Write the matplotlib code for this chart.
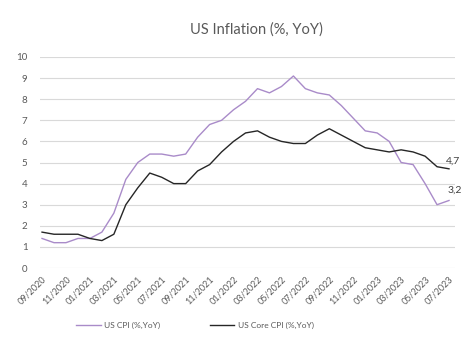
import numpy as np
import matplotlib
matplotlib.use("Agg")
import matplotlib.pyplot as plt
from matplotlib import rcParams

rcParams["font.family"] = ["Lato", "DejaVu Sans"]

# monthly, 09/2020 .. 07/2023
months = ["09/2020", "10/2020", "11/2020", "12/2020",
          "01/2021", "02/2021", "03/2021", "04/2021", "05/2021", "06/2021",
          "07/2021", "08/2021", "09/2021", "10/2021", "11/2021", "12/2021",
          "01/2022", "02/2022", "03/2022", "04/2022", "05/2022", "06/2022",
          "07/2022", "08/2022", "09/2022", "10/2022", "11/2022", "12/2022",
          "01/2023", "02/2023", "03/2023", "04/2023", "05/2023", "06/2023",
          "07/2023"]
cpi = [1.4, 1.2, 1.2, 1.4, 1.4, 1.7, 2.6, 4.2, 5.0, 5.4, 5.4, 5.3, 5.4,
       6.2, 6.8, 7.0, 7.5, 7.9, 8.5, 8.3, 8.6, 9.1, 8.5, 8.3, 8.2, 7.7,
       7.1, 6.5, 6.4, 6.0, 5.0, 4.9, 4.0, 3.0, 3.2]
core = [1.7, 1.6, 1.6, 1.6, 1.4, 1.3, 1.6, 3.0, 3.8, 4.5, 4.3, 4.0, 4.0,
        4.6, 4.9, 5.5, 6.0, 6.4, 6.5, 6.2, 6.0, 5.9, 5.9, 6.3, 6.6, 6.3,
        6.0, 5.7, 5.6, 5.5, 5.6, 5.5, 5.3, 4.8, 4.7]

C_CPI = "#a98bc9"
C_CORE = "#262626"
GRAY = "#595959"

fig = plt.figure(figsize=(4.74, 3.59), dpi=100)
ax = fig.add_axes([40 / 474, 1 - 268 / 359, 415 / 474, 211 / 359])

x = np.arange(len(months))
ax.plot(x, cpi, color=C_CPI, linewidth=1.0, label="US CPI (%,YoY)")
ax.plot(x, core, color=C_CORE, linewidth=1.0, label="US Core CPI (%,YoY)")

# end-point value labels
ax.annotate(f"{core[-1]:.1f}".replace(".", ","), xy=(x[-1], core[-1]),
            xytext=(-2, 2), textcoords="offset points", fontsize=7.5,
            color="#404040", va="bottom", ha="left")
ax.annotate(f"{cpi[-1]:.1f}".replace(".", ","), xy=(x[-1], cpi[-1]),
            xytext=(-1, 4), textcoords="offset points", fontsize=7.5,
            color="#404040", va="bottom", ha="left")

ax.set_xlim(-0.17, 34.5)
ax.set_ylim(0, 10)
ax.set_yticks(range(0, 11))
ax.set_xticks(x[::2])
ax.set_xticklabels(months[::2], rotation=45, ha="right", rotation_mode="anchor",
                   fontsize=6.5, color=GRAY)
ax.tick_params(axis="y", labelsize=7, labelcolor=GRAY, length=0, pad=9)
ax.tick_params(axis="x", length=0, pad=5)
for s in ax.spines.values():
    s.set_visible(False)
ax.grid(axis="y", color="#d9d9d9", linewidth=0.8)
ax.set_axisbelow(True)

fig.text(256 / 474, 1 - 30 / 359, "US Inflation (%, YoY)", ha="center",
         va="center", fontsize=10.5, color=GRAY)

fig.legend(loc="center", bbox_to_anchor=(195 / 474, 1 - 325 / 359), ncol=2,
           frameon=False, fontsize=6, handlelength=2.9, handletextpad=0.4,
           columnspacing=6, labelcolor=GRAY)

fig.savefig("out.png", dpi=100)
